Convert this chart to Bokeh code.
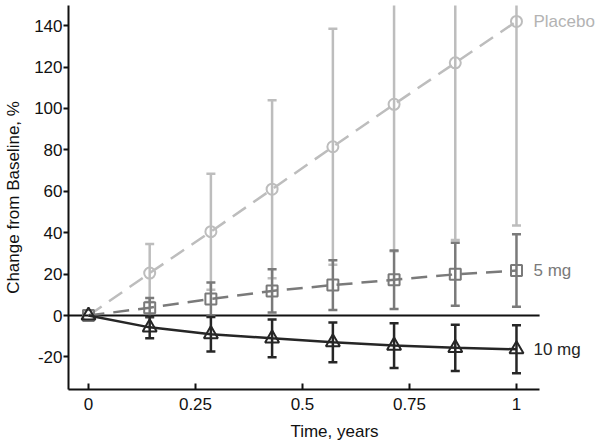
import numpy as np
from bokeh.plotting import figure
from bokeh.models import Range1d, FixedTicker
from bokeh.embed import file_html
from bokeh.resources import INLINE

# ---- data ----
time_years = [0.0, 0.143, 0.286, 0.429, 0.571, 0.714, 0.857, 1.0]
placebo_mean = [0, 20.5, 40.5, 61, 81.5, 102, 122, 142]
placebo_sd = [0, 14, 28, 43, 57, 71, 85.5, 98.5]
mg5_mean = [0, 3.8, 8.0, 11.9, 14.7, 17.3, 19.9, 21.7]
mg5_sd = [0, 4.7, 8.0, 10.4, 12.0, 14.1, 15.2, 17.5]
mg10_mean = [0, -5.7, -9.0, -11.0, -12.9, -14.5, -15.6, -16.3]
mg10_sd = [0, 5.2, 8.3, 9.1, 9.6, 10.8, 11.2, 11.6]
series_names = ["Placebo", "5 mg", "10 mg"]
x_ticks = [0, 0.25, 0.5, 0.75, 1]
x_tick_labels = ["0", "0.25", "0.5", "0.75", "1"]
y_ticks = [-20, 0, 20, 40, 60, 80, 100, 120, 140]
y_tick_labels = ["-20", "0", "20", "40", "60", "80", "100", "120", "140"]

FONT = "Liberation Sans"
X_LO, X_HI, AXIS_END = -0.0467, 1.1963, 1.054

p = figure(width=600, height=443, output_backend="svg", toolbar_location=None,
           x_range=Range1d(X_LO, X_HI), y_range=Range1d(-35.7, 149.7),
           min_border_left=68, min_border_right=0, min_border_top=5,
           min_border_bottom=54)
p.outline_line_color = None
p.grid.visible = False
p.background_fill_color = "white"
p.border_fill_color = "white"

# axes
for ax in (p.xaxis[0], p.yaxis[0]):
    ax.axis_line_width = 2
    ax.axis_line_color = "#111111"
    ax.major_tick_line_width = 2
    ax.major_tick_line_color = "#111111"
    ax.minor_tick_line_color = None
    ax.major_label_text_font = FONT
    ax.major_label_text_font_size = "17px"
    ax.major_label_text_color = "#111111"
    ax.axis_label_text_font = FONT
    ax.axis_label_text_font_size = "17px"
    ax.axis_label_text_font_style = "normal"
    ax.axis_label_text_color = "#111111"

xa = p.xaxis[0]
xa.ticker = FixedTicker(ticks=x_ticks)
xa.major_label_overrides = dict(zip(x_ticks, x_tick_labels))
xa.major_tick_in = 6
xa.major_tick_out = 0
xa.bounds = (X_LO, AXIS_END)
xa.axis_label = "Time, years"
xa.major_label_standoff = 8
xa.axis_label_standoff = 9

ya = p.yaxis[0]
ya.ticker = FixedTicker(ticks=y_ticks)
ya.major_label_overrides = dict(zip(y_ticks, y_tick_labels))
ya.major_tick_in = 0
ya.major_tick_out = 5
ya.axis_label = "Change from Baseline, %"
ya.major_label_standoff = 1
ya.axis_label_standoff = 8

# zero reference line
p.segment(x0=[X_LO], y0=[0], x1=[AXIS_END], y1=[0], line_color="#111111", line_width=2)

t = np.array(time_years)
specs = [
    (placebo_mean, placebo_sd, "#bdbdbd", "circle", 11, "16 9", "#b3b3b3"),
    (mg5_mean, mg5_sd, "#7a7a7a", "square", 11, "16 9", "#7a7a7a"),
    (mg10_mean, mg10_sd, "#262626", "triangle", 14, "solid", "#262626"),
]
for name, (mean, sd, col, marker, msize, dash, tcol) in zip(series_names, specs):
    m = np.array(mean, dtype=float)
    s = np.array(sd, dtype=float)
    lo, hi = m - s, m + s
    p.line(t, m, line_color=col, line_width=2.5, line_dash=dash)
    p.segment(x0=t[1:], y0=lo[1:], x1=t[1:], y1=hi[1:], line_color=col, line_width=2.5)
    p.scatter(t[1:], hi[1:], marker="dash", size=9, line_color=col, line_width=2.5)
    p.scatter(t[1:], lo[1:], marker="dash", size=9, line_color=col, line_width=2.5)
    p.scatter(t, m, marker=marker, size=msize, line_color=col, line_width=2,
              fill_color=None)
    p.text(x=[t[-1]], y=[m[-1]], text=[name], x_offset=17, text_baseline="middle",
           text_align="left", text_color=tcol, text_font_size="17px",
           text_font={"value": FONT})

open("out.html", "w").write(file_html(p, INLINE))
